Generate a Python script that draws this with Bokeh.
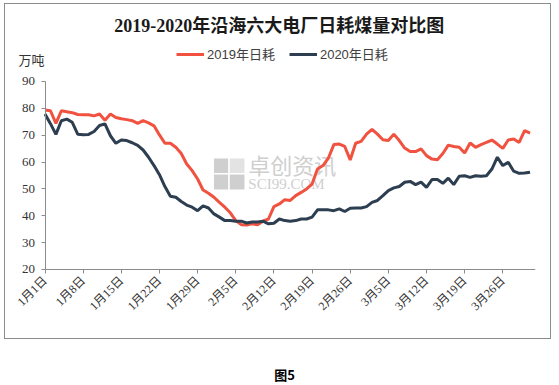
import math
from bokeh.plotting import figure
from bokeh.models import FixedTicker, Label, Legend, LegendItem, Div, BoxAnnotation, Range1d
from bokeh.layouts import column
from bokeh.embed import file_html
from bokeh.resources import INLINE

title_text = "2019-2020年沿海六大电厂日耗煤量对比图"
unit_text = "万吨"
series_names = ["2019年日耗", "2020年日耗"]
tick_idx = [0, 7, 14, 21, 28, 35, 42, 49, 56, 63, 70, 77, 84]
tick_labels = ["1月1日", "1月8日", "1月15日", "1月22日", "1月29日", "2月5日", "2月12日",
               "2月19日", "2月26日", "3月5日", "3月12日", "3月19日", "3月26日"]
y_ticks = [20, 30, 40, 50, 60, 70, 80, 90]

v2019 = [79.4, 79.1, 74.4, 79.1, 78.7, 78.4, 77.7, 77.6, 77.6, 77.2,
         77.9, 75.6, 77.9, 76.6, 76.1, 75.8, 75.4, 74.4, 75.4, 74.6,
         73.5, 70.1, 67.0, 67.0, 65.5, 63.2, 59.3, 56.8, 53.7, 49.6,
         48.4, 46.9, 45.0, 43.2, 41.1, 38.2, 36.7, 36.6, 37.0, 36.7,
         38.0, 38.8, 43.4, 44.4, 46.0, 45.7, 47.5, 48.7, 50.0, 51.8,
         57.4, 58.7, 61.5, 66.5, 66.7, 65.8, 60.8, 67.0, 67.7, 70.4,
         72.2, 70.4, 68.3, 68.0, 70.4, 68.0, 65.2, 63.9, 63.9, 64.9,
         62.4, 61.1, 60.9, 63.2, 66.3, 65.8, 65.5, 63.4, 67.1, 65.5,
         66.5, 67.3, 68.2, 66.7, 65.1, 68.2, 68.6, 67.3, 71.7, 70.8]

v2020 = [77.9, 74.3, 70.3, 75.4, 76.0, 74.8, 70.4, 70.2, 70.3, 71.4,
         73.6, 74.2, 69.8, 67.0, 68.2, 68.0, 67.2, 66.2, 64.5, 61.8,
         58.7, 55.3, 50.9, 47.3, 46.9, 45.3, 44.0, 43.2, 41.9, 43.7,
         42.9, 40.7, 39.5, 38.2, 38.2, 38.0, 38.0, 37.3, 37.7, 37.7,
         38.0, 37.0, 37.2, 38.8, 38.2, 38.0, 38.2, 38.8, 38.8, 39.5,
         42.2, 42.2, 42.2, 41.9, 42.6, 41.6, 42.8, 42.9, 42.9, 43.4,
         45.0, 45.7, 47.5, 49.4, 50.4, 50.9, 52.5, 52.8, 51.6, 52.5,
         50.6, 53.5, 53.5, 52.1, 54.0, 51.6, 54.7, 54.9, 54.3, 54.9,
         54.7, 54.9, 57.4, 61.8, 58.7, 59.9, 56.6, 55.8, 55.9, 56.2]

x = list(range(len(v2019)))

SERIF = "'Liberation Serif', 'Noto Sans CJK SC'"
SANS = "'Liberation Sans', 'Noto Sans CJK SC'"

p = figure(width=547, height=336, output_backend="svg", toolbar_location=None,
           x_range=Range1d(-7.25, 90), y_range=Range1d(-6.44, 118.67),
           min_border_left=0, min_border_right=17, min_border_top=0, min_border_bottom=0,
           margin=(3, 0, 0, 4),
           styles={"border": "1px solid #8c8c8c"})
p.outline_line_color = None
p.grid.visible = False
p.background_fill_color = "white"
p.border_fill_color = "white"

# watermark
wm_color = "#cfcfcf"
for (l, r, b, t, c) in [(31.0, 33.6, 55.9, 61.3, wm_color), (33.9, 36.6, 55.9, 61.3, "#e3e3e3"),
                        (31.0, 33.6, 49.8, 55.4, wm_color), (33.9, 36.6, 49.8, 55.4, wm_color)]:
    p.add_layout(BoxAnnotation(left=l, right=r, bottom=b, top=t, fill_color=c, fill_alpha=1,
                               line_color=None, level="underlay"))
p.add_layout(Label(x=37.3, y=58.3, text="卓创资讯", text_align="left", text_baseline="middle",
                   text_font_size="22px", text_font=SANS, text_color=wm_color, level="underlay"))
p.add_layout(Label(x=37.3, y=51.8, text="SCI99.COM", text_align="left", text_baseline="middle",
                   text_font_size="15px", text_font=SERIF, text_color=wm_color, level="underlay"))

r19 = p.line(x, v2019, line_color="#F0523F", line_width=3)
r20 = p.line(x, v2020, line_color="#2C3E50", line_width=3)

p.yaxis.fixed_location = 0
p.xaxis.fixed_location = 20
p.yaxis.bounds = (20, 90)
p.xaxis.bounds = (0, 90)
p.xaxis.ticker = FixedTicker(ticks=tick_idx)
p.xaxis.major_label_overrides = {i: s for i, s in zip(tick_idx, tick_labels)}
p.xaxis.major_label_orientation = math.pi / 4
p.yaxis.ticker = FixedTicker(ticks=y_ticks)
p.axis.minor_tick_line_color = None
p.axis.axis_line_color = "#8c8c8c"
p.axis.major_tick_line_color = "#8c8c8c"
p.axis.major_tick_in = 0
p.axis.major_tick_out = 4
p.axis.major_label_text_font = SERIF
p.axis.major_label_text_color = "#333333"
p.xaxis.major_label_text_font_size = "12px"
p.yaxis.major_label_text_font_size = "13px"
p.xaxis.major_label_standoff = 5
p.yaxis.major_label_standoff = 6

legend = Legend(items=[LegendItem(label=series_names[0], renderers=[r19]),
                       LegendItem(label=series_names[1], renderers=[r20])],
                orientation="horizontal", location=(171, 277),
                glyph_width=28, glyph_height=14, label_height=14, label_standoff=3, spacing=14,
                padding=0, margin=0, border_line_color=None, background_fill_alpha=0,
                label_text_font_size="13px", label_text_font=SANS, label_text_color="#404040")
p.add_layout(legend)

p.add_layout(Label(x=43.0, y=110.85, text=title_text, text_align="center", text_baseline="middle",
                   text_font_size="18px", text_font_style="bold", text_font=SERIF, text_color="#1a1a1a"))
p.add_layout(Label(x=-4.86, y=97.8, text=unit_text, text_align="left", text_baseline="middle",
                   text_font_size="13px", text_font=SANS, text_color="#333333"))

cap = Div(text="<div style='padding-top:23px;line-height:16px;text-align:center;width:559px'>图5</div>",
          width=559, height=43,
          styles={"font-weight": "bold", "font-size": "13px",
                  "font-family": "'Noto Sans CJK SC', sans-serif", "color": "#000000"})

layout = column(p, cap, spacing=0)
open("out.html", "w").write(file_html(layout, INLINE))
